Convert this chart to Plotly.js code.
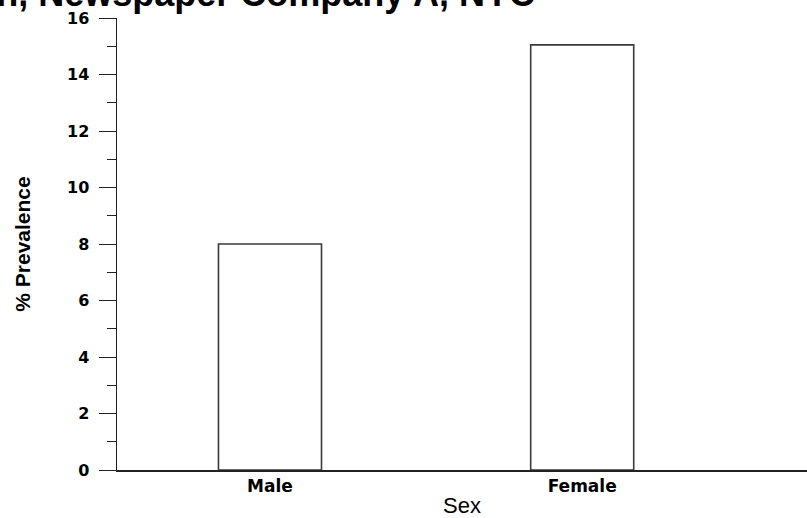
<!DOCTYPE html>
<html>
<head>
<meta charset="utf-8">
<script src="https://cdn.plot.ly/plotly-3.0.1.min.js"></script>
<style>html,body{margin:0;padding:0;background:#fff;}#chart{width:807px;height:518px;}</style>
</head>
<body>
<div id="chart"></div>
<script>
const categories = ["Male", "Female"];
const prevalence = [8.0, 15.05];
const yTickVals = [0, 2, 4, 6, 8, 10, 12, 14, 16];
const yTickText = ["0", "2", "4", "6", "8", "10", "12", "14", "16"];
const titleText = "Prevalence of Symptoms in the Hand/Wrist Region, Newspaper Company A, NYC";

const trace = {
  type: "bar",
  x: categories,
  y: prevalence,
  width: 0.33,
  marker: {color: "#ffffff", line: {color: "#3a3a3a", width: 1.6}},
  hoverinfo: "x+y"
};

const layout = {
  width: 807, height: 518,
  margin: {l: 117, r: 0, t: 18, b: 48},
  paper_bgcolor: "#ffffff", plot_bgcolor: "#ffffff",
  showlegend: false,
  title: {
    text: "<b>" + titleText + "</b>",
    font: {family: "Liberation Sans, Arial, sans-serif", size: 36, color: "#000"},
    xref: "container", x: 535 / 807, xanchor: "right",
    yref: "container", y: 1, yanchor: "top",
    pad: {t: -19, b: 0, l: 0, r: 0}
  },
  xaxis: {
    type: "category",
    range: [-0.49, 1.72],
    showline: true, linecolor: "#222", linewidth: 1.5,
    ticks: "", showgrid: false, zeroline: false,
    tickfont: {family: "DejaVu Sans, sans-serif", size: 17, color: "#000", weight: "bold"},
    title: {text: "Sex", font: {family: "Liberation Sans, Arial, sans-serif", size: 22, color: "#000"}, standoff: 2}
  },
  yaxis: {
    range: [0, 16],
    tickvals: yTickVals, ticktext: yTickText,
    showline: true, linecolor: "#222", linewidth: 1.5,
    ticks: "outside", ticklen: 17, tickcolor: "#222", tickwidth: 1,
    ticklabelstandoff: 6,
    minor: {dtick: 1, ticks: "outside", ticklen: 9, tickcolor: "#222", tickwidth: 1, showgrid: false},
    showgrid: false, zeroline: false,
    tickfont: {family: "DejaVu Sans, sans-serif", size: 16, color: "#000", weight: "bold"},
    title: {text: "<b>% Prevalence</b>", font: {family: "Liberation Sans, Arial, sans-serif", size: 21, color: "#000"}, standoff: 30}
  }
};

Plotly.newPlot("chart", [trace], layout, {displayModeBar: false, staticPlot: true});
</script>
</body>
</html>
